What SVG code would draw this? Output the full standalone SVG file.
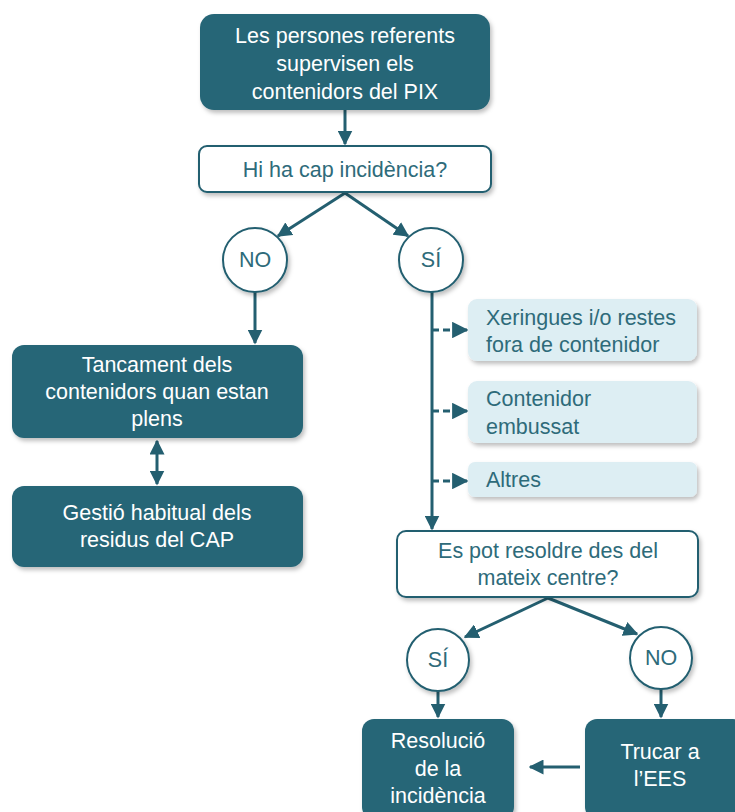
<svg xmlns="http://www.w3.org/2000/svg" width="735" height="812" viewBox="0 0 735 812">
<defs>
<filter id="sh" x="-10%" y="-10%" width="130%" height="140%">
<feDropShadow dx="2" dy="3" stdDeviation="2" flood-color="#000" flood-opacity="0.25"/>
</filter>
<marker id="ah" viewBox="0 0 10 10" refX="9" refY="5" markerWidth="5" markerHeight="5" orient="auto-start-reverse">
<path d="M0,0 L10,5 L0,10 z" fill="#245f70"/>
</marker>
<marker id="ahs" viewBox="0 0 10 10" refX="9" refY="5" markerWidth="5.5" markerHeight="5.5" orient="auto">
<path d="M0,0 L10,5 L0,10 z" fill="#245f70"/>
</marker>
<style>
.dark{fill:#276677;filter:url(#sh)}
.white{fill:#fff;stroke:#245f70;stroke-width:2;filter:url(#sh)}
.light{fill:#ddeef3;filter:url(#sh)}
.circ{fill:#fff;stroke:#245f70;stroke-width:2;filter:url(#sh)}
text{font-family:"Liberation Sans",Arial,sans-serif;font-size:21.5px}
.tw{fill:#fff;text-anchor:middle}
.tt{fill:#2e6b7a;text-anchor:middle}
.tl{fill:#2e6b7a}
.line{stroke:#245f70;stroke-width:3;fill:none}
.dash{stroke:#245f70;stroke-width:3;fill:none;stroke-dasharray:7 4}
</style>
</defs>
<g id="connectors">
<line class="line" x1="345" y1="110" x2="345" y2="144" marker-end="url(#ah)"/>
<line class="line" x1="345" y1="193" x2="278" y2="236" marker-end="url(#ah)"/>
<line class="line" x1="345" y1="193" x2="408" y2="236" marker-end="url(#ah)"/>
<line class="line" x1="255" y1="292" x2="255" y2="343" marker-end="url(#ah)"/>
<line class="line" x1="157" y1="441" x2="157" y2="484" marker-start="url(#ah)" marker-end="url(#ah)"/>
<line class="line" x1="432" y1="292" x2="432" y2="529" marker-end="url(#ah)"/>
<line class="dash" x1="432" y1="330" x2="467" y2="330" marker-end="url(#ahs)"/>
<line class="dash" x1="432" y1="411" x2="467" y2="411" marker-end="url(#ahs)"/>
<line class="dash" x1="432" y1="481" x2="467" y2="481" marker-end="url(#ahs)"/>
<line class="line" x1="548" y1="598" x2="465" y2="637" marker-end="url(#ah)"/>
<line class="line" x1="548" y1="598" x2="637" y2="634" marker-end="url(#ah)"/>
<line class="line" x1="438" y1="691" x2="438" y2="717" marker-end="url(#ah)"/>
<line class="line" x1="661" y1="689" x2="661" y2="717" marker-end="url(#ah)"/>
<line class="line" x1="580" y1="767" x2="530" y2="767" marker-end="url(#ah)"/>
</g>
<g id="n1">
<rect class="dark" x="200" y="14" width="290" height="96" rx="14"/>
<text class="tw" x="345" y="43">Les persones referents</text>
<text class="tw" x="345" y="71">supervisen els</text>
<text class="tw" x="345" y="99">contenidors del PIX</text>
</g>
<g id="n2">
<rect class="white" x="199" y="146" width="292" height="46" rx="8"/>
<text class="tt" x="345" y="177">Hi ha cap incidència?</text>
</g>
<g id="no1">
<circle class="circ" cx="255" cy="260" r="32"/>
<text class="tt" x="255" y="267">NO</text>
</g>
<g id="si1">
<circle class="circ" cx="431" cy="260" r="32"/>
<text class="tt" x="431" y="267">SÍ</text>
</g>
<g id="n3">
<rect class="dark" x="12" y="345" width="291" height="93" rx="12"/>
<text class="tw" x="157" y="372">Tancament dels</text>
<text class="tw" x="157" y="399">contenidors quan estan</text>
<text class="tw" x="157" y="426">plens</text>
</g>
<g id="n4">
<rect class="dark" x="12" y="486" width="291" height="81" rx="12"/>
<text class="tw" x="157" y="520">Gestió habitual dels</text>
<text class="tw" x="157" y="547">residus del CAP</text>
</g>
<g id="b1">
<rect class="light" x="468" y="299" width="229" height="62" rx="9"/>
<text class="tl" x="486" y="325">Xeringues i/o restes</text>
<text class="tl" x="486" y="352">fora de contenidor</text>
</g>
<g id="b2">
<rect class="light" x="468" y="381" width="229" height="62" rx="9"/>
<text class="tl" x="486" y="406">Contenidor</text>
<text class="tl" x="486" y="434">embussat</text>
</g>
<g id="b3">
<rect class="light" x="468" y="462" width="229" height="35" rx="7"/>
<text class="tl" x="486" y="487">Altres</text>
</g>
<g id="n5">
<rect class="white" x="397" y="531" width="301" height="66" rx="9"/>
<text class="tt" x="548" y="558">Es pot resoldre des del</text>
<text class="tt" x="548" y="585">mateix centre?</text>
</g>
<g id="si2">
<circle class="circ" cx="438" cy="660" r="31"/>
<text class="tt" x="438" y="667">SÍ</text>
</g>
<g id="no2">
<circle class="circ" cx="661" cy="658" r="31"/>
<text class="tt" x="661" y="665">NO</text>
</g>
<g id="n6">
<rect class="dark" x="362" y="719" width="152" height="100" rx="12"/>
<text class="tw" x="438" y="748">Resolució</text>
<text class="tw" x="438" y="776">de la</text>
<text class="tw" x="438" y="803">incidència</text>
</g>
<g id="n7">
<rect class="dark" x="585" y="719" width="160" height="100" rx="12"/>
<text class="tw" x="660" y="759">Trucar a</text>
<text class="tw" x="660" y="786">l’EES</text>
</g>
</svg>
